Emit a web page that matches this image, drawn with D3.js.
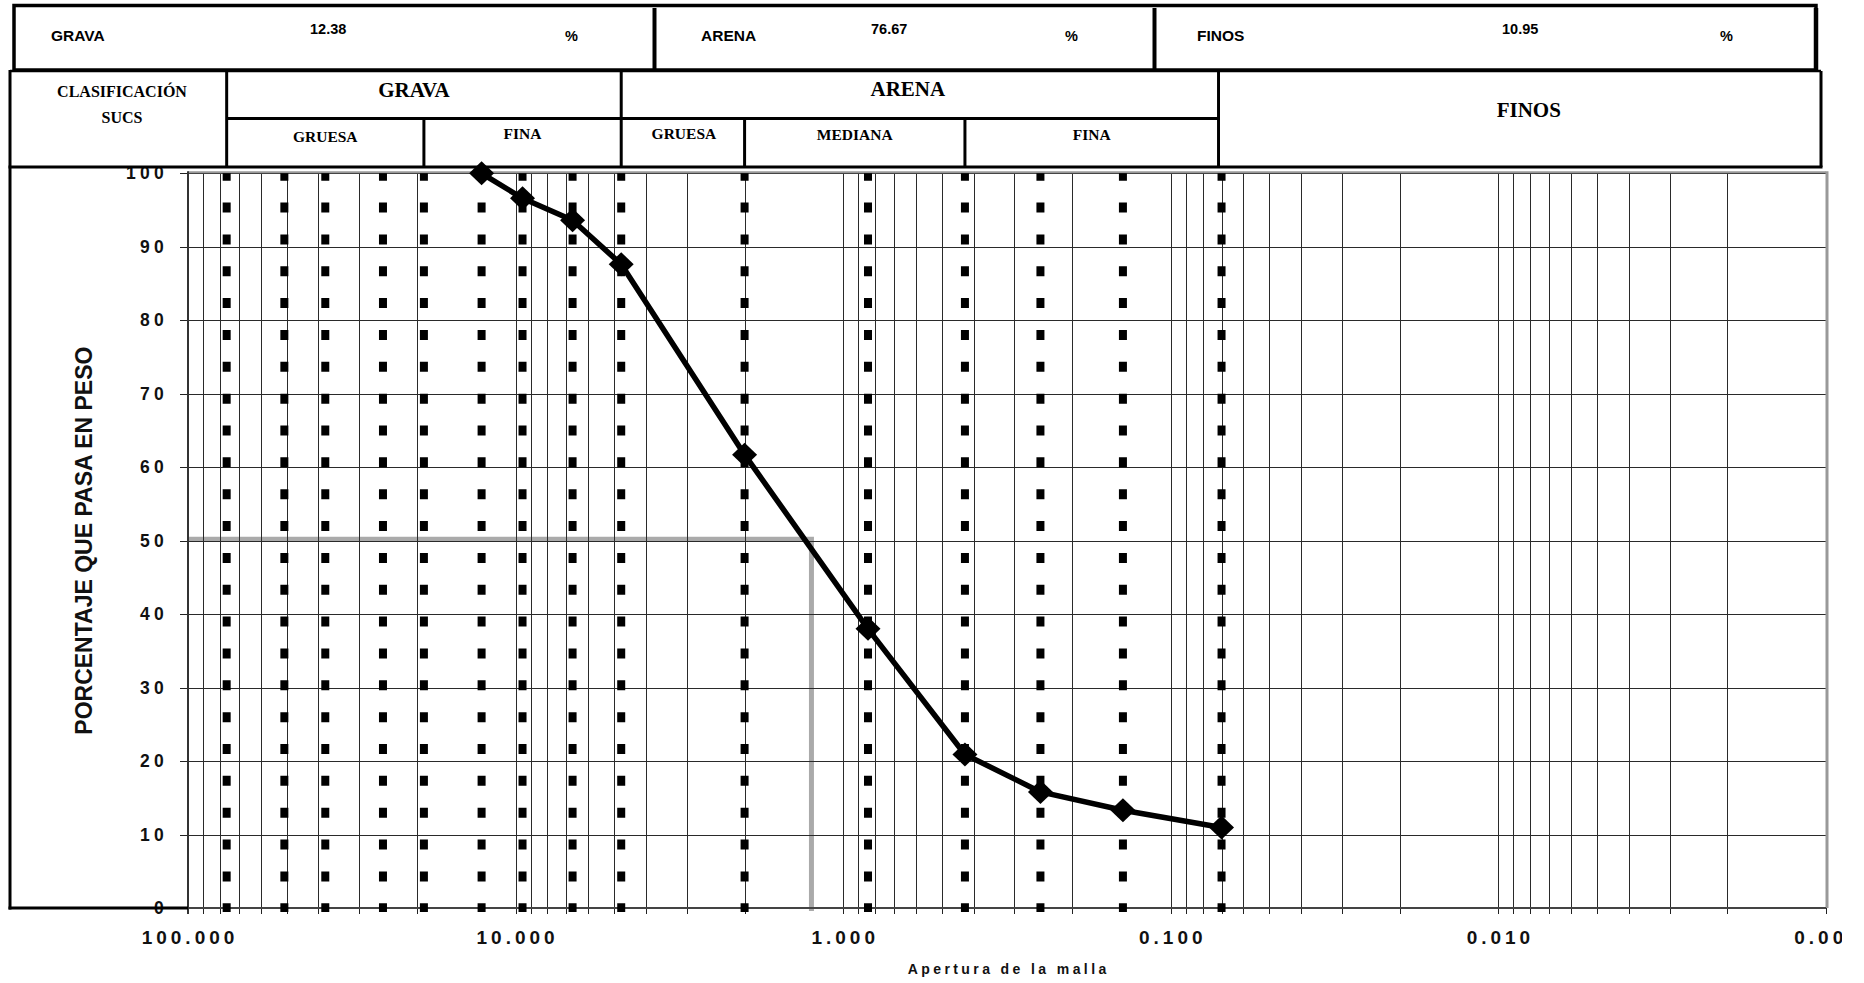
<!DOCTYPE html>
<html><head><meta charset="utf-8">
<script src="https://cdn.jsdelivr.net/npm/d3@7"></script>
<style>
body{margin:0;background:#fff;}
svg{display:block;}
</style>
</head><body>
<svg id="chart" width="1864" height="983"></svg>
<script>
// ---------- DATA ----------
const sieveOpenings  = [12.7, 9.525, 6.7, 4.76, 2.0, 0.84, 0.425, 0.25, 0.14, 0.07];   // mm
const percentPassing = [100, 96.6, 93.6, 87.62, 61.7, 38.0, 20.9, 15.8, 13.3, 10.95];   // %
const guideSieves    = [76.2, 50.8, 38.1, 25.4, 19.05, 12.7, 9.525, 6.7, 4.76, 2.0, 0.84, 0.425, 0.25, 0.14, 0.07];
const xTickValues    = [100, 10, 1, 0.1, 0.01, 0.001];
const yTickValues    = [0, 10, 20, 30, 40, 50, 60, 70, 80, 90, 100];
const d50Value       = 1.25;   // mm at 50 %
const summaryLabels  = ["GRAVA", "ARENA", "FINOS"];
const summaryValues  = ["12.38", "76.67", "10.95"];
const classBounds    = [76.2, 19.05, 4.76, 2.0, 0.425, 0.0715];  // SUCS limits (mm)
const xTitle = "Apertura de la malla";
const yTitle = "PORCENTAJE QUE PASA EN PESO";

(function () {
// ---------- SETUP ----------
const svg = d3.select("#chart");
const plot = {left: 188, right: 1826, top: 173.3, bottom: 908};
const x = d3.scaleLog().domain([100, 0.001]).range([plot.left, plot.right]);
const y = d3.scaleLinear().domain([0, 100]).range([plot.bottom, plot.top]);
const SANS = "'Liberation Sans', Arial, sans-serif";
const SERIF = "'Liberation Serif', 'Times New Roman', serif";

const defs = svg.append("defs");
defs.append("clipPath").attr("id", "labclip").append("rect")
  .attr("x", 0).attr("y", 0).attr("width", 1842).attr("height", 983);

// ---------- GRAY D50 GUIDE ----------
svg.append("path")
  .attr("d", `M${x(100)},${y(50) - 1.5}H${x(d50Value)}V${y(0) + 3}`)
  .attr("fill", "none").attr("stroke", "#aaaaaa").attr("stroke-width", 5);

// ---------- GRID ----------
const grid = svg.append("g").attr("shape-rendering", "crispEdges");
const minorVals = x.ticks();
grid.selectAll("line.v").data(minorVals).join("line")
  .attr("x1", d => Math.round(x(d)) + 0.5).attr("x2", d => Math.round(x(d)) + 0.5)
  .attr("y1", plot.top).attr("y2", plot.bottom)
  .attr("stroke", "#2a2a2a").attr("stroke-width", 1);
grid.selectAll("line.h").data(yTickValues).join("line")
  .attr("x1", plot.left).attr("x2", plot.right)
  .attr("y1", d => Math.round(y(d)) + 0.5).attr("y2", d => Math.round(y(d)) + 0.5)
  .attr("stroke", "#2a2a2a").attr("stroke-width", 1);

const ticksG = svg.append("g").attr("shape-rendering", "crispEdges");
ticksG.selectAll("line.xt").data(minorVals).join("line")
  .attr("x1", d => Math.round(x(d)) + 0.5).attr("x2", d => Math.round(x(d)) + 0.5)
  .attr("y1", plot.bottom).attr("y2", plot.bottom + 6)
  .attr("stroke", "#222").attr("stroke-width", 1);
ticksG.selectAll("line.yt").data(yTickValues).join("line")
  .attr("x1", plot.left - 8).attr("x2", plot.left)
  .attr("y1", d => Math.round(y(d)) + 0.5).attr("y2", d => Math.round(y(d)) + 0.5)
  .attr("stroke", "#222").attr("stroke-width", 1);

// plot border
svg.append("line").attr("x1", plot.left).attr("x2", plot.right).attr("y1", plot.top - 1).attr("y2", plot.top - 1)
  .attr("stroke", "#999").attr("stroke-width", 2);
svg.append("line").attr("x1", plot.right + 1).attr("x2", plot.right + 1).attr("y1", plot.top - 2).attr("y2", plot.bottom)
  .attr("stroke", "#999").attr("stroke-width", 3);
svg.append("line").attr("x1", plot.left).attr("x2", plot.right).attr("y1", plot.bottom).attr("y2", plot.bottom)
  .attr("stroke", "#444").attr("stroke-width", 2);
svg.append("line").attr("x1", plot.left).attr("x2", plot.left).attr("y1", plot.top - 2).attr("y2", plot.bottom + 6)
  .attr("stroke", "#333").attr("stroke-width", 2);

// ---------- SIEVE GUIDE LINES (square dots) ----------
svg.append("g").selectAll("line").data(guideSieves).join("line")
  .attr("x1", d => x(d)).attr("x2", d => x(d))
  .attr("y1", y(100)).attr("y2", y(0) + 4)
  .attr("stroke", "#000").attr("stroke-width", 8)
  .attr("stroke-dasharray", "10 21.85").attr("stroke-dashoffset", 2.6);

// ---------- CURVE ----------
const pts = sieveOpenings.map((s, i) => [s, percentPassing[i]]);
const line = d3.line().x(d => x(d[0])).y(d => y(d[1]));
svg.append("path").datum(pts).attr("d", line)
  .attr("fill", "none").attr("stroke", "#000").attr("stroke-width", 5.5)
  .attr("stroke-linejoin", "round");
svg.append("g").selectAll("path").data(pts).join("path")
  .attr("transform", d => `translate(${x(d[0])},${y(d[1])})`)
  .attr("d", "M0,-12L12.5,0L0,12L-12.5,0Z").attr("fill", "#000");

// ---------- AXIS LABELS ----------
svg.append("g").selectAll("text").data(yTickValues).join("text")
  .attr("x", plot.left - 20).attr("y", d => y(d)).attr("dy", "0.35em")
  .attr("text-anchor", "end")
  .attr("font-family", SANS).attr("font-weight", "bold").attr("font-size", 17.5)
  .attr("letter-spacing", 4.3).attr("fill", "#111")
  .text(d => d);

const fmt = d3.format(".3f");
svg.append("g").attr("clip-path", "url(#labclip)").selectAll("text").data(xTickValues).join("text")
  .attr("x", d => x(d) + 2).attr("y", 944)
  .attr("text-anchor", "middle")
  .attr("font-family", SANS).attr("font-weight", "bold").attr("font-size", 19)
  .attr("letter-spacing", 4).attr("fill", "#111")
  .text(d => fmt(d));

svg.append("text")
  .attr("transform", `translate(83.5,${(plot.top + plot.bottom) / 2}) rotate(-90)`)
  .attr("dy", "0.35em").attr("text-anchor", "middle")
  .attr("font-family", SANS).attr("font-weight", "bold").attr("font-size", 23)
  .attr("fill", "#111").text(yTitle);

svg.append("text")
  .attr("x", (plot.left + plot.right) / 2 + 1.7).attr("y", 974)
  .attr("text-anchor", "middle")
  .attr("font-family", SANS).attr("font-weight", "bold").attr("font-size", 14)
  .attr("letter-spacing", 3.4).attr("fill", "#111").text(xTitle);

// left frame
svg.append("line").attr("x1", 10).attr("x2", 10).attr("y1", 70).attr("y2", plot.bottom + 1.5)
  .attr("stroke", "#000").attr("stroke-width", 3);
svg.append("line").attr("x1", 8.5).attr("x2", plot.left).attr("y1", plot.bottom).attr("y2", plot.bottom)
  .attr("stroke", "#000").attr("stroke-width", 3);

// ---------- HEADER: summary row ----------
const topRow = svg.append("g");
const topCells = [14, 654.5, 1154.5, 1816];
topRow.append("rect").attr("x", 14).attr("y", 5.5).attr("width", 1816 - 14).attr("height", 70 - 5.5)
  .attr("fill", "none").attr("stroke", "#000").attr("stroke-width", 3.5);
topRow.append("line").attr("x1", 1816).attr("x2", 1816).attr("y1", 8).attr("y2", 70)
  .attr("stroke", "#000").attr("stroke-width", 4.5);
topRow.selectAll("line.div").data(topCells.slice(1, 3)).join("line")
  .attr("x1", d => d).attr("x2", d => d).attr("y1", 8).attr("y2", 70)
  .attr("stroke", "#000").attr("stroke-width", 4);
const offsets = [[37, 296, 551], [46.5, 216.5, 410.5], [42.5, 347.5, 565.5]];
summaryLabels.forEach((lab, i) => {
  const x0 = topCells[i];
  const offs = offsets[i];
  topRow.append("text").attr("x", x0 + offs[0]).attr("y", 40.5)
    .attr("font-family", SANS).attr("font-weight", "bold").attr("font-size", 15.5).text(lab);
  topRow.append("text").attr("x", x0 + offs[1]).attr("y", 34)
    .attr("font-family", SANS).attr("font-weight", "bold").attr("font-size", 14.5).text(summaryValues[i]);
  topRow.append("text").attr("x", x0 + offs[2]).attr("y", 40.5)
    .attr("font-family", SANS).attr("font-weight", "bold").attr("font-size", 14.5).text("%");
});

// ---------- HEADER: SUCS classification row ----------
const hdr = svg.append("g");
const bx = classBounds.map(d => x(d));
const rTop = 71, rMid = 118.5, rBot = 167, rRight = 1821;
const hl = (x1, x2, y1, y2, w) => hdr.append("line").attr("x1", x1).attr("x2", x2).attr("y1", y1).attr("y2", y2)
  .attr("stroke", "#000").attr("stroke-width", w);
hl(10, rRight, rTop, rTop, 2.5);
hl(8.5, rRight + 1.5, rBot, rBot, 3);
hl(rRight, rRight, rTop, rBot, 3);
hl(bx[0], bx[5], rMid, rMid, 3);
[bx[0], bx[2], bx[5]].forEach(v => hl(v, v, rTop, rBot, 3));
[bx[1], bx[3], bx[4]].forEach(v => hl(v, v, rMid, rBot, 3));

const serif = (t, cx, by, fs) => hdr.append("text").attr("x", cx).attr("y", by)
  .attr("text-anchor", "middle").attr("font-family", SERIF).attr("font-weight", "bold")
  .attr("font-size", fs).text(t);
serif("CLASIFICACIÓN", 122, 96.5, 16);
serif("SUCS", 122, 123, 16);
serif("GRAVA", (bx[0] + bx[2]) / 2 - 10, 96.5, 21);
serif("ARENA", (bx[2] + bx[5]) / 2 - 12, 95.5, 21);
serif("FINOS", (bx[5] + rRight) / 2 + 9, 116.5, 21);
serif("GRUESA", (bx[0] + bx[1]) / 2, 142, 15.5);
serif("FINA", (bx[1] + bx[2]) / 2, 138.5, 15.5);
serif("GRUESA", (bx[2] + bx[3]) / 2 + 1, 139, 15.5);
serif("MEDIANA", (bx[3] + bx[4]) / 2, 140, 15.5);
serif("FINA", (bx[4] + bx[5]) / 2, 140, 15.5);
})();
</script>
</body></html>
